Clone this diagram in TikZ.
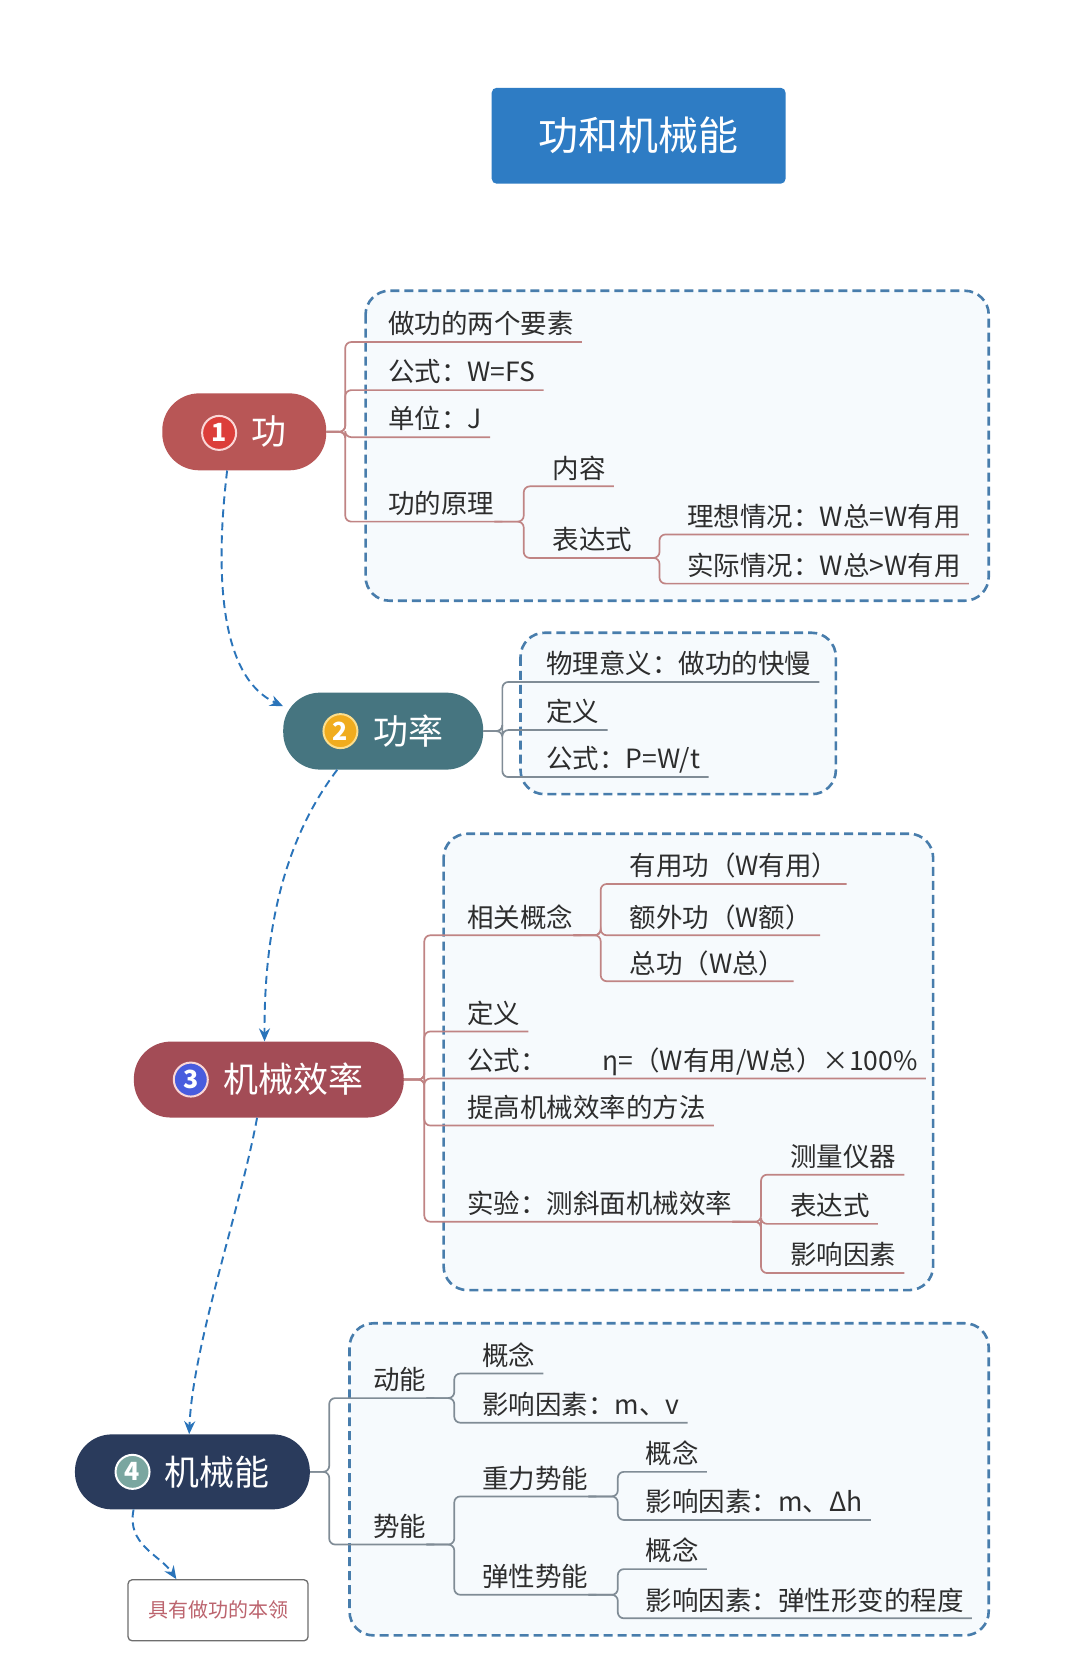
\documentclass[tikz,border=0pt]{standalone}
\usepackage{fontspec}
\setmainfont{Noto Sans CJK SC}
\usetikzlibrary{positioning}
\usetikzlibrary{calc}
\usetikzlibrary{arrows.meta}

\definecolor{titleblue}{RGB}{46,124,196}
\definecolor{workred}{RGB}{184,86,86}
\definecolor{powerteal}{RGB}{70,117,128}
\definecolor{effrose}{RGB}{163,76,86}
\definecolor{energynavy}{RGB}{42,59,92}
\definecolor{dotred}{RGB}{220,62,58}
\definecolor{ringpink}{RGB}{250,215,215}
\definecolor{dotyellow}{RGB}{240,172,30}
\definecolor{ringyellow}{RGB}{252,222,140}
\definecolor{dotblue}{RGB}{72,92,222}
\definecolor{dotteal}{RGB}{122,166,160}
\definecolor{framecol}{RGB}{72,125,172}
\definecolor{framefill}{RGB}{246,250,253}
\definecolor{arrowblue}{RGB}{42,116,186}
\definecolor{rosy}{RGB}{192,132,132}
\definecolor{slate}{RGB}{128,140,150}
\definecolor{textgray}{RGB}{45,45,45}
\definecolor{notegray}{RGB}{110,110,110}
\definecolor{notered}{RGB}{188,100,110}

\tikzset{
  topic/.style={rounded corners=37pt, text=white, inner sep=0pt, minimum height=77pt, font=\fontsize{35}{40}\selectfont},
  numdot/.style={circle, draw=white, line width=2pt, text=white, inner sep=0pt, minimum size=34pt, font=\fontsize{25}{25}\selectfont\bfseries},
  leaf/.style={anchor=south west, inner xsep=0pt, inner ysep=8pt, text depth=0pt, text=textgray, font=\fontsize{26.5}{30}\selectfont},
  frame/.style={draw=framecol, fill=framefill, line width=2.6pt, dash pattern=on 9pt off 5pt, rounded corners=24pt},
  redline/.style={draw=rosy, line width=1.7pt, rounded corners=6pt},
  grayline/.style={draw=slate, line width=1.7pt, rounded corners=6pt},
  flow/.style={draw=arrowblue, line width=1.9pt, dash pattern=on 8pt off 5pt, -{Stealth[length=13pt,width=11pt]}},
}

\begin{document}
\begin{tikzpicture}[x=1.0693pt, y=-1.0693pt]

        \fill[white] (0,0) rectangle (1010,1568);
        \useasboundingbox (0,0) rectangle (1010,1568);

        % dashed frames behind the branches
        \draw[frame] (342,272) rectangle (925,562);
        \draw[frame] (487,592) rectangle (782,743);
        \draw[frame] (415,780) rectangle (873,1207);
        \draw[frame] (327,1238) rectangle (925,1530);

        \node[fill=titleblue, rounded corners=5pt, minimum width=294pt, minimum height=96pt, text=white, font=\fontsize{40}{46}\selectfont] (title) at (597.5,127) {功和机械能};

        % main topics
        \node[topic, fill=workred, minimum width=164pt] (n1) at (228.5,404) {\hspace*{50pt}功};
        \node[topic, fill=powerteal, minimum width=200pt] (n2) at (358.5,684) {\hspace*{50pt}功率};
        \node[topic, fill=effrose, minimum width=270pt, minimum height=76pt] (n3) at (251.5,1010) {\hspace*{50pt}机械效率};
        \node[topic, fill=energynavy, minimum width=235pt, minimum height=75pt] (n4) at (180,1377) {\hspace*{49pt}机械能};

        \node[numdot, fill=dotred, draw=ringpink] (d1) at (205,405) {1};
        \node[numdot, fill=dotyellow, draw=ringyellow] (d2) at (318.5,684) {2};
        \node[numdot, fill=dotblue, draw=ringpink] (d3) at (178.5,1010) {3};
        \node[numdot, fill=dotteal] (d4) at (124,1377) {4};

        \node[draw=notegray, line width=1.3pt, rounded corners=4pt, fill=white, minimum width=180pt, minimum height=61pt, text=notered, font=\fontsize{20}{24}\selectfont] (note) at (204,1506.5) {具有做功的本领};

        % flow between topics
        \draw[flow] ($(n1.south)+(-16,0)$) .. controls (200,545) and (208,635) .. (n2.166);
        \draw[flow] ($(n2.south)+(-43,0)$) .. controls (270,780) and (247,860) .. ($(n3.north)+(-4,0)$);
        \draw[flow] ($(n3.south)+(-11,0)$) .. controls (225,1130) and (180,1260) .. ($(n4.north)+(-3,0)$);
        \draw[flow] ($(n4.south)+(-55,0)$) .. controls (118,1445) and (150,1455) .. ($(note.north)+(-39,0)$);

        % branch 1
        \node[leaf] (a1) at (363,320) {做功的两个要素};
        \node[leaf] (a2) at (363,365) {公式：W=FS};
        \node[leaf] (a3) at (363,409) {单位：J};
        \node[leaf] (a4) at (363,488) {功的原理};
        \node[leaf] (a41) at (517,455) {内容};
        \node[leaf] (a42) at (517,522) {表达式};
        \node[leaf] (a421) at (643,500) {理想情况：W总=W有用};
        \node[leaf] (a422) at (643,546) {实际情况：W总>W有用};

        \coordinate (ja) at (323,404);
        \coordinate (ja4) at (490,488);
        \coordinate (ja42) at (617,522);

        \foreach \c in {a1,a2,a3,a4}
          \draw[redline] (n1.east) -- (ja) |- (\c.south west) -- ([xshift=8pt]\c.south east);
        \foreach \c in {a41,a42}
          \draw[redline] (a4.south east) -- (ja4) |- (\c.south west) -- ([xshift=8pt]\c.south east);
        \foreach \c in {a421,a422}
          \draw[redline] (a42.south east) -- (ja42) |- (\c.south west) -- ([xshift=8pt]\c.south east);

        % branch 2
        \node[leaf] (b1) at (511,638) {物理意义：做功的快慢};
        \node[leaf] (b2) at (511,683) {定义};
        \node[leaf] (b3) at (511,727) {公式：P=W/t};

        \coordinate (jb) at (470,684);

        \foreach \c in {b1,b2,b3}
          \draw[grayline] (n2.east) -- (jb) |- (\c.south west) -- ([xshift=8pt]\c.south east);

        % branch 3
        \node[leaf] (c1) at (437,875) {相关概念};
        \node[leaf] (c11) at (589,827) {有用功（W有用）};
        \node[leaf] (c12) at (589,875) {额外功（W额）};
        \node[leaf] (c13) at (589,918) {总功（W总）};
        \node[leaf] (c2) at (437,965) {定义};
        \node[leaf] (c3) at (437,1009) {公式：\hspace{56pt}η=（W有用/W总）×100\%};
        \node[leaf] (c4) at (437,1053) {提高机械效率的方法};
        \node[leaf] (c5) at (437,1143) {实验：测斜面机械效率};
        \node[leaf] (c51) at (739,1099) {测量仪器};
        \node[leaf] (c52) at (739,1145) {表达式};
        \node[leaf] (c53) at (739,1191) {影响因素};

        \coordinate (jc) at (397,1010);
        \coordinate (jc1) at (562,875);
        \coordinate (jc5) at (712,1143);

        \foreach \c in {c1,c2,c3,c4,c5}
          \draw[redline] (n3.east) -- (jc) |- (\c.south west) -- ([xshift=8pt]\c.south east);
        \foreach \c in {c11,c12,c13}
          \draw[redline] (c1.south east) -- (jc1) |- (\c.south west) -- ([xshift=8pt]\c.south east);
        \foreach \c in {c51,c52,c53}
          \draw[redline] (c5.south east) -- (jc5) |- (\c.south west) -- ([xshift=8pt]\c.south east);

        % branch 4
        \node[leaf] (e1) at (349,1308) {动能};
        \node[leaf] (e11) at (451,1285) {概念};
        \node[leaf] (e12) at (451,1331) {影响因素：m、v};
        \node[leaf] (e2) at (349,1445) {势能};
        \node[leaf] (e21) at (451,1400) {重力势能};
        \node[leaf] (e211) at (604,1377) {概念};
        \node[leaf] (e212) at (604,1422) {影响因素：m、Δh};
        \node[leaf] (e22) at (451,1492) {弹性势能};
        \node[leaf] (e221) at (604,1468) {概念};
        \node[leaf] (e222) at (604,1514) {影响因素：弹性形变的程度};

        \coordinate (je) at (308,1377);
        \coordinate (je1) at (425,1308);
        \coordinate (je2) at (425,1445);
        \coordinate (je21) at (578,1400);
        \coordinate (je22) at (578,1492);

        \foreach \c in {e1,e2}
          \draw[grayline] (n4.east) -- (je) |- (\c.south west) -- ([xshift=8pt]\c.south east);
        \foreach \c in {e11,e12}
          \draw[grayline] (e1.south east) -- (je1) |- (\c.south west) -- ([xshift=8pt]\c.south east);
        \foreach \c in {e21,e22}
          \draw[grayline] (e2.south east) -- (je2) |- (\c.south west) -- ([xshift=8pt]\c.south east);
        \foreach \c in {e211,e212}
          \draw[grayline] (e21.south east) -- (je21) |- (\c.south west) -- ([xshift=8pt]\c.south east);
        \foreach \c in {e221,e222}
          \draw[grayline] (e22.south east) -- (je22) |- (\c.south west) -- ([xshift=8pt]\c.south east);

\end{tikzpicture}
\end{document}
